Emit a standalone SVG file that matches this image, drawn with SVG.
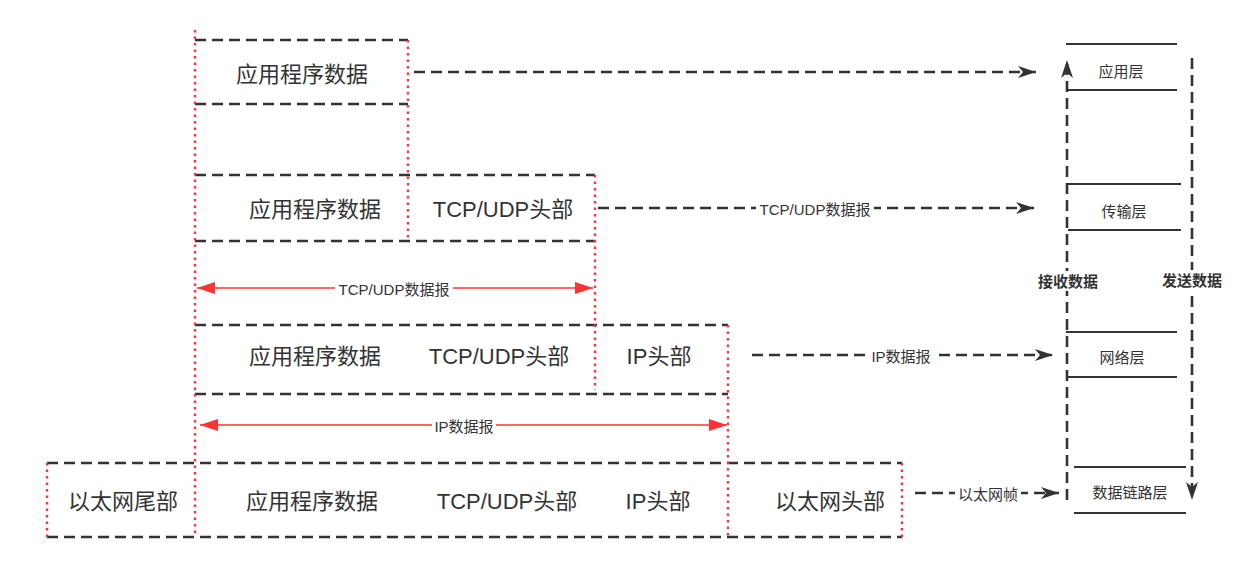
<svg xmlns="http://www.w3.org/2000/svg" width="1240" height="567" viewBox="0 0 1240 567">
<defs>
<style>
.bg{fill:#fff}
.dash{stroke:#333;stroke-width:2.6;stroke-dasharray:11 6;fill:none}
.red{stroke:#f33;stroke-width:2.4;stroke-dasharray:2.5 4;fill:none}
.rl{stroke:#f33;stroke-width:1.4;fill:none}
.sl{stroke:#333;stroke-width:2.2;fill:none}
.big{font-family:"Liberation Sans","Noto Sans CJK SC",sans-serif;font-size:22px;fill:#333;text-anchor:middle;dominant-baseline:central}
.sm{font-family:"Liberation Sans","Noto Sans CJK SC",sans-serif;font-size:15px;fill:#333;text-anchor:middle;dominant-baseline:central}
.bold{font-family:"Liberation Sans","Noto Sans CJK SC",sans-serif;font-size:15px;font-weight:bold;fill:#333;text-anchor:middle;dominant-baseline:central}
</style>
<marker id="ab" viewBox="0 0 18 12" refX="18" refY="6" markerWidth="18" markerHeight="12" markerUnits="userSpaceOnUse" orient="auto">
<path d="M0,0 L18,6 L0,12 L5,6 z" fill="#333"/>
</marker>
<marker id="ar" viewBox="0 0 18 12" refX="18" refY="6" markerWidth="18" markerHeight="12" markerUnits="userSpaceOnUse" orient="auto-start-reverse">
<path d="M0,0 L18,6 L0,12 z" fill="#f33"/>
</marker>
</defs>
<rect class="bg" width="1240" height="567"/>

<g id="frames">
<line class="dash" x1="195" y1="40" x2="408" y2="40"/>
<line class="dash" x1="195" y1="104" x2="408" y2="104"/>
<line class="dash" x1="195" y1="175" x2="595" y2="175"/>
<line class="dash" x1="195" y1="241" x2="595" y2="241"/>
<line class="dash" x1="195" y1="325" x2="728" y2="325"/>
<line class="dash" x1="195" y1="394" x2="728" y2="394"/>
<line class="dash" x1="47" y1="463" x2="902" y2="463"/>
<line class="dash" x1="47" y1="537" x2="902" y2="537"/>
</g>
<g id="guides">
<line class="red" x1="195" y1="30" x2="195" y2="537"/>
<line class="red" x1="408" y1="40" x2="408" y2="240"/>
<line class="red" x1="595" y1="175" x2="595" y2="390"/>
<line class="red" x1="728" y1="325" x2="728" y2="537"/>
<line class="red" x1="47" y1="463" x2="47" y2="537"/>
<line class="red" x1="902" y1="463" x2="902" y2="537"/>
</g>

<g id="row1">
<text class="big" x="302" y="74">应用程序数据</text>
</g>
<g id="row2">
<text class="big" x="315" y="209">应用程序数据</text>
<text class="big" x="503" y="209">TCP/UDP头部</text>
</g>
<g id="row3">
<text class="big" x="315" y="356">应用程序数据</text>
<text class="big" x="499" y="356">TCP/UDP头部</text>
<text class="big" x="659" y="356">IP头部</text>
</g>
<g id="row4">
<text class="big" x="123" y="501">以太网尾部</text>
<text class="big" x="312" y="501">应用程序数据</text>
<text class="big" x="507" y="501">TCP/UDP头部</text>
<text class="big" x="658" y="501">IP头部</text>
<text class="big" x="830" y="501">以太网头部</text>
</g>

<g id="connectors">
<line class="rl" x1="197" y1="288" x2="593" y2="288" marker-start="url(#ar)" marker-end="url(#ar)"/>
<rect class="bg" x="335" y="279" width="118" height="18"/>
<text class="sm" x="394" y="289">TCP/UDP数据报</text>
<line class="rl" x1="200" y1="425" x2="727" y2="425" marker-start="url(#ar)" marker-end="url(#ar)"/>
<rect class="bg" x="432" y="416" width="64" height="18"/>
<text class="sm" x="464" y="426">IP数据报</text>

<line class="dash" x1="414" y1="72" x2="1036" y2="72" marker-end="url(#ab)"/>
<line class="dash" x1="598" y1="208" x2="1034" y2="208" marker-end="url(#ab)"/>
<rect class="bg" x="756" y="199" width="118" height="18"/>
<text class="sm" x="815" y="209">TCP/UDP数据报</text>
<line class="dash" x1="752" y1="355" x2="1053" y2="355" marker-end="url(#ab)"/>
<rect class="bg" x="869" y="346" width="64" height="18"/>
<text class="sm" x="901" y="356">IP数据报</text>
<line class="dash" x1="915" y1="493" x2="1059" y2="493" marker-end="url(#ab)"/>
<rect class="bg" x="955" y="484" width="66" height="18"/>
<text class="sm" x="988" y="494">以太网帧</text>

<line class="dash" x1="1067" y1="500" x2="1067" y2="60" marker-end="url(#ab)"/>
<line class="dash" x1="1192" y1="58" x2="1192" y2="500" marker-end="url(#ab)"/>
<rect class="bg" x="1036" y="271" width="64" height="20"/>
<text class="bold" x="1068" y="281">接收数据</text>
<rect class="bg" x="1160" y="270" width="64" height="20"/>
<text class="bold" x="1192" y="280">发送数据</text>
</g>

<g id="app-layer">
<line class="sl" x1="1066" y1="44" x2="1177" y2="44"/>
<line class="sl" x1="1068" y1="90" x2="1177" y2="90"/>
<text class="sm" x="1121" y="71">应用层</text>
</g>
<g id="transport-layer">
<line class="sl" x1="1068" y1="184" x2="1181" y2="184"/>
<line class="sl" x1="1068" y1="230" x2="1181" y2="230"/>
<text class="sm" x="1124" y="211">传输层</text>
</g>
<g id="network-layer">
<line class="sl" x1="1066" y1="332" x2="1177" y2="332"/>
<line class="sl" x1="1066" y1="377" x2="1177" y2="377"/>
<text class="sm" x="1122" y="357">网络层</text>
</g>
<g id="link-layer">
<line class="sl" x1="1074" y1="467" x2="1186" y2="467"/>
<line class="sl" x1="1074" y1="513" x2="1186" y2="513"/>
<text class="sm" x="1130" y="492">数据链路层</text>
</g>
</svg>
